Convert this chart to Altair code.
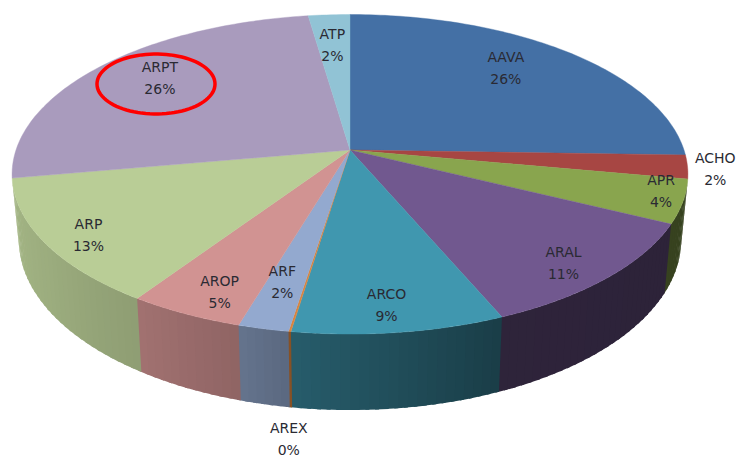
import math
import altair as alt

# ---- data ----
categories = ["AAVA", "ACHO", "APR", "ARAL", "ARCO", "AREX", "ARF", "AROP", "ARP", "ARPT", "ATP"]
shares = [25.5, 2.4, 4.4, 11.3, 8.8, 0.1, 2.1, 4.8, 12.8, 25.5, 2.3]
percent_labels = ["26%", "2%", "4%", "11%", "9%", "0%", "2%", "5%", "13%", "26%", "2%"]
colors = ["#4470A5", "#A74643", "#89A54E", "#71588F", "#4097AF", "#DB843D",
          "#93A9CF", "#D19392", "#B9CD96", "#A99BBD", "#91C3D5"]

# ---- layout: pie geometry (page pixels) and label nudges ----
HUB_X, HUB_Y = 350, 150
RX, RY, PERSP = 334, 156.1, 0.152
DEPTH_SHIFT, DEPTH_XS, DEPTH_YS = 64, 0.98, 1.065
MARGIN = 8
LABEL_R = 0.7
LINE_HEIGHT = 22
label_nudge = {
    "AAVA": (4, -12), "ACHO": (129, 8), "APR": (78, 6), "ARAL": (33, 25),
    "ARCO": (2, 28), "AREX": (-19, 163), "ARF": (-7, 8), "AROP": (-15, 28),
    "ARP": (-48, 21), "ARPT": (-16, -12), "ATP": (-3, -9.5),
}
shade_stops = [(100, .40), (157, .41), (188, .61), (197, .69), (213, .77), (235, .84), (262, .90)]


def rim(deg):
    a = math.radians(deg)
    X, Y = math.sin(a), math.cos(a)
    w = 1 + PERSP * Y
    return HUB_X + RX * X / w, HUB_Y - RY * Y / w


def lower(pt):
    return (HUB_X + DEPTH_XS * (pt[0] - HUB_X),
            HUB_Y + DEPTH_SHIFT + DEPTH_YS * (pt[1] - HUB_Y))


def page(pt):
    return [pt[0] - MARGIN, pt[1] - MARGIN]


def shade(hex_color, deg):
    f = shade_stops[-1][1]
    for (a0, f0), (a1, f1) in zip(shade_stops, shade_stops[1:]):
        if a0 <= deg <= a1:
            f = f0 + (f1 - f0) * (deg - a0) / (a1 - a0)
            break
    rgb = [int(hex_color[i:i + 2], 16) for i in (1, 3, 5)]
    return "#%02x%02x%02x" % tuple(int(c * f) for c in rgb)


def feature(ring, name, color):
    ring = [page(p) for p in ring]
    ring.append(ring[0])
    return {"type": "Feature",
            "geometry": {"type": "Polygon", "coordinates": [ring]},
            "properties": {"name": name, "color": color}}


top_faces, side_faces, label_rows = [], [], []
cum = 0.0
for name, share, pct, col in zip(categories, shares, percent_labels, colors):
    a0 = cum * 3.6
    a1 = (cum + share) * 3.6
    cum += share
    n = max(2, int((a1 - a0) / 1.0) + 1)
    arc = [a0 + (a1 - a0) * i / n for i in range(n + 1)]
    top_faces.append(feature([(HUB_X, HUB_Y)] + [rim(a) for a in arc], name, col))

    # front wall, only where the rim faces the viewer
    s0, s1 = max(a0, 100.4), min(a1, 259.9)
    if s1 > s0:
        m = max(1, int((s1 - s0) / 1.5) + 1)
        for i in range(m):
            b0 = s0 + (s1 - s0) * i / m
            b1 = s0 + (s1 - s0) * (i + 1) / m
            # each strip runs a little under the next one, so no seam shows
            e1 = min(b1 + 0.6, 259.9)
            t0, t1 = rim(b0), rim(e1)
            side_faces.append(feature([t0, t1, lower(t1), lower(t0)], name,
                                      shade(col, (b0 + b1) / 2)))

    mid = rim((a0 + a1) / 2)
    dx, dy = label_nudge[name]
    label_rows.append({
        "text": name + "\n" + pct,
        "lon": HUB_X + LABEL_R * (mid[0] - HUB_X) + dx - MARGIN,
        "lat": HUB_Y + LABEL_R * (mid[1] - HUB_Y) + dy - MARGIN - LINE_HEIGHT / 2,
    })

# red hand-drawn ring around ARPT
ring_cx, ring_cy, ring_rx, ring_ry = 156, 84, 59, 30
ellipse = [page((ring_cx + ring_rx * math.cos(math.radians(t)),
                 ring_cy + ring_ry * math.sin(math.radians(t)))) for t in range(0, 361, 4)]
ring_feature = [{"type": "Feature",
                 "geometry": {"type": "LineString", "coordinates": ellipse},
                 "properties": {"name": "ring"}}]

proj = dict(type="identity", scale=1, translate=[0, 0])

sides = (alt.Chart(alt.Data(values=side_faces)).mark_geoshape(strokeWidth=0)
         .encode(color=alt.Color("properties.color:N", scale=None, legend=None))
         .project(**proj))
tops = (alt.Chart(alt.Data(values=top_faces)).mark_geoshape(strokeWidth=0.4)
        .encode(color=alt.Color("properties.color:N", scale=None, legend=None),
                stroke=alt.Stroke("properties.color:N", scale=None, legend=None))
        .project(**proj))
labels = (alt.Chart(alt.Data(values=label_rows))
          .mark_text(font="DejaVu Sans", fontSize=14, color="#2a2a33", lineBreak="\n",
                     lineHeight=LINE_HEIGHT, align="center", baseline="middle")
          .encode(longitude="lon:Q", latitude="lat:Q", text="text:N")
          .project(**proj))
ring = (alt.Chart(alt.Data(values=ring_feature))
        .mark_geoshape(filled=False, stroke="#FF0000", strokeWidth=3.5)
        .project(**proj))

chart = (alt.layer(sides, tops, ring, labels)
         .properties(width=728, height=449, padding=0, background="white",
                     autosize=alt.AutoSizeParams(type="none"))
         .configure_view(stroke=None))

chart.save("out.html", embed_options={"renderer": "svg", "actions": False})
